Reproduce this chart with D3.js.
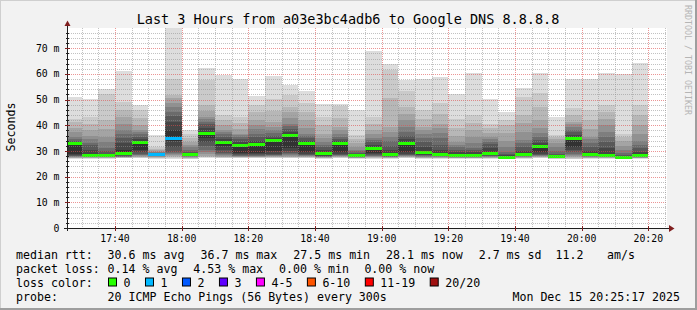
<!DOCTYPE html>
<html>
<head>
<meta charset="utf-8">
<script src="https://cdn.jsdelivr.net/npm/d3@7/dist/d3.min.js"></script>
<style>
    body { margin: 0; background: #f2f2f2; }
    svg { display: block; }
    text { font-family: "DejaVu Sans Mono", monospace; fill: #000; }
</style>
</head>
<body>
<div id="chart"></div>
<script>
// 5 minute steps, start time of each step
const barStarts = ["17:25", "17:30", "17:35", "17:40", "17:45", "17:50", "17:55",
    "18:00", "18:05", "18:10", "18:15", "18:20", "18:25", "18:30", "18:35",
    "18:40", "18:45", "18:50", "18:55", "19:00", "19:05", "19:10", "19:15",
    "19:20", "19:25", "19:30", "19:35", "19:40", "19:45", "19:50", "19:55",
    "20:00", "20:05", "20:10", "20:15"];

// median rtt per step (ms)
const medians = [32.8, 28.4, 28.2, 28.9, 33.4, 28.7, 34.7, 28.8, 36.7, 33.4,
    32.1, 32.5, 34.0, 36.2, 32.8, 28.9, 33.0, 28.2, 31.0, 28.7, 33.1, 29.3,
    28.6, 28.1, 28.2, 28.9, 27.5, 28.6, 31.9, 27.8, 34.8, 28.7, 28.4, 27.5, 28.1];

// lost pings per step (of 20)
const lossCount = [0, 0, 0, 0, 0, 1, 1, 0, 0, 0, 0, 0, 0, 0, 0, 0, 0, 0,
    0, 0, 0, 0, 0, 0, 0, 0, 0, 0, 0, 0, 0, 0, 0, 0, 0];

// the 20 sorted pings of every step (ms)
const pings = [
    [27.0, 27.2, 27.3, 27.4, 27.6, 27.8, 28.0, 28.2, 28.5, 29.0, 33.0, 33.5, 34.0, 34.6, 35.5, 37.5, 39.0, 41.2, 42.3, 51.1],
    [27.0, 27.2, 27.3, 27.4, 27.5, 27.6, 27.7, 27.8, 28.0, 28.3, 29.0, 30.5, 32.3, 33.2, 34.5, 36.0, 38.0, 40.5, 43.3, 50.3],
    [27.0, 27.2, 27.3, 27.4, 27.5, 27.6, 27.7, 27.8, 27.9, 28.1, 28.5, 29.0, 30.0, 31.0, 33.5, 35.5, 38.5, 42.0, 52.2, 54.0],
    [27.1, 27.3, 27.4, 27.5, 27.6, 27.7, 27.8, 28.0, 28.3, 28.7, 30.5, 33.0, 34.9, 36.5, 38.1, 40.5, 43.3, 46.0, 49.2, 61.3],
    [27.1, 27.3, 27.5, 27.7, 28.0, 28.3, 28.6, 29.0, 29.6, 30.5, 33.6, 34.5, 35.5, 36.5, 37.3, 38.1, 40.0, 43.0, 45.9, 47.9],
    [27.0, 27.2, 27.4, 27.6, 27.8, 28.0, 28.2, 28.3, 28.5, 28.6, 28.8, 29.0, 29.2, 29.4, 29.6, 29.7, 30.3, 30.8, 31.4, 36.2],
    [27.0, 27.4, 27.8, 28.2, 28.6, 29.0, 29.4, 29.7, 31.5, 34.0, 38.0, 41.4, 43.5, 45.3, 47.0, 48.5, 50.5, 51.8, 57.9, 80.0],
    [26.8, 27.0, 27.2, 27.4, 27.6, 27.8, 28.0, 28.2, 28.4, 28.6, 29.0, 29.3, 29.7, 30.5, 31.5, 32.5, 33.5, 35.0, 36.8, 38.2],
    [27.2, 27.5, 27.8, 28.2, 28.8, 29.5, 30.5, 31.8, 33.5, 35.0, 37.2, 39.0, 40.5, 41.4, 42.5, 43.3, 45.5, 47.9, 57.6, 62.2],
    [27.1, 27.3, 27.5, 27.7, 28.0, 28.4, 28.8, 29.3, 30.5, 32.0, 33.8, 34.5, 35.5, 36.5, 37.3, 38.1, 40.0, 42.0, 44.0, 59.7],
    [27.1, 27.3, 27.5, 27.6, 27.8, 28.0, 28.2, 28.5, 28.8, 29.3, 32.5, 33.5, 34.5, 35.5, 36.2, 36.8, 38.5, 41.0, 43.3, 58.0],
    [27.1, 27.3, 27.5, 27.6, 27.8, 28.0, 28.2, 28.5, 28.8, 29.3, 33.0, 34.0, 35.5, 36.8, 38.5, 40.0, 42.0, 45.0, 47.9, 51.4],
    [27.1, 27.3, 27.5, 27.7, 27.9, 28.1, 28.3, 28.6, 29.0, 29.8, 34.3, 34.9, 36.0, 37.0, 38.0, 39.5, 41.4, 45.5, 50.1, 59.2],
    [27.1, 27.3, 27.5, 27.8, 28.1, 28.4, 28.8, 29.3, 30.0, 31.0, 36.5, 37.3, 38.5, 39.7, 40.7, 43.0, 45.0, 47.0, 51.8, 55.8],
    [27.1, 27.3, 27.5, 27.7, 27.9, 28.1, 28.3, 28.6, 29.0, 29.6, 33.1, 34.0, 35.0, 36.0, 36.8, 39.0, 42.0, 45.0, 48.5, 53.5],
    [27.0, 27.2, 27.3, 27.4, 27.5, 27.6, 27.7, 27.9, 28.2, 28.6, 29.3, 30.5, 31.5, 32.3, 33.5, 35.0, 36.8, 40.0, 43.3, 48.2],
    [27.1, 27.3, 27.5, 27.7, 27.9, 28.1, 28.3, 28.6, 29.0, 29.6, 33.3, 34.0, 34.8, 35.5, 36.8, 38.0, 39.4, 43.0, 47.5, 48.2],
    [26.9, 27.1, 27.2, 27.3, 27.4, 27.5, 27.6, 27.7, 27.9, 28.1, 28.4, 28.7, 29.2, 29.8, 30.5, 31.6, 33.0, 34.5, 36.2, 46.0],
    [27.0, 27.2, 27.4, 27.5, 27.7, 27.9, 28.1, 28.4, 28.8, 29.4, 31.6, 32.5, 33.5, 34.2, 34.9, 36.5, 38.1, 40.5, 43.3, 69.1],
    [27.0, 27.2, 27.3, 27.4, 27.5, 27.6, 27.8, 28.0, 28.2, 28.5, 29.0, 30.5, 32.0, 34.0, 35.5, 37.5, 39.4, 50.5, 61.5, 63.8],
    [27.1, 27.3, 27.5, 27.7, 27.9, 28.1, 28.3, 28.6, 29.0, 29.6, 33.4, 34.5, 36.0, 37.5, 39.4, 42.0, 44.5, 47.2, 53.5, 57.7],
    [27.0, 27.2, 27.3, 27.4, 27.6, 27.8, 28.0, 28.3, 28.6, 29.0, 29.7, 31.5, 33.5, 34.9, 36.5, 38.0, 39.4, 42.5, 45.9, 58.2],
    [27.0, 27.2, 27.3, 27.4, 27.5, 27.7, 27.9, 28.1, 28.3, 28.5, 29.0, 30.5, 32.5, 34.9, 37.0, 39.0, 40.7, 44.5, 48.5, 58.9],
    [26.9, 27.1, 27.2, 27.3, 27.4, 27.5, 27.6, 27.7, 27.9, 28.1, 28.6, 29.5, 30.5, 31.5, 32.5, 33.6, 36.0, 39.0, 42.3, 52.2],
    [26.9, 27.1, 27.2, 27.3, 27.4, 27.5, 27.6, 27.7, 27.9, 28.1, 28.6, 29.5, 30.3, 31.0, 33.0, 35.5, 38.1, 41.0, 44.0, 60.5],
    [27.0, 27.2, 27.3, 27.4, 27.5, 27.7, 27.9, 28.1, 28.4, 28.8, 29.5, 31.0, 32.7, 33.5, 34.5, 35.5, 37.0, 39.0, 40.5, 50.4],
    [26.7, 26.9, 27.0, 27.1, 27.2, 27.3, 27.4, 27.5, 27.6, 27.7, 28.0, 28.5, 29.0, 29.7, 31.5, 34.0, 37.0, 40.0, 42.0, 45.2],
    [27.0, 27.2, 27.3, 27.4, 27.5, 27.7, 27.9, 28.1, 28.3, 28.5, 29.0, 30.0, 31.5, 33.0, 34.2, 37.5, 41.0, 44.0, 51.1, 54.7],
    [27.1, 27.3, 27.5, 27.7, 27.9, 28.1, 28.3, 28.6, 29.0, 29.6, 32.3, 33.3, 34.2, 35.5, 37.0, 38.8, 42.0, 47.0, 52.4, 60.5],
    [26.8, 27.0, 27.1, 27.2, 27.3, 27.4, 27.5, 27.6, 27.7, 27.8, 28.0, 28.4, 29.0, 30.0, 31.5, 33.0, 34.5, 35.5, 36.2, 43.4],
    [26.7, 27.0, 27.4, 27.8, 28.2, 28.6, 29.0, 29.5, 30.5, 31.5, 35.2, 36.3, 37.2, 38.1, 39.5, 40.5, 41.4, 44.0, 46.6, 58.0],
    [27.0, 27.2, 27.3, 27.4, 27.5, 27.7, 27.9, 28.1, 28.3, 28.6, 29.0, 30.0, 31.5, 33.0, 34.5, 35.5, 38.5, 42.0, 45.9, 58.0],
    [27.0, 27.2, 27.3, 27.4, 27.5, 27.6, 27.8, 28.0, 28.2, 28.4, 29.0, 31.0, 33.6, 35.5, 37.5, 40.1, 42.5, 45.0, 47.9, 60.4],
    [26.7, 26.9, 27.0, 27.1, 27.2, 27.3, 27.4, 27.5, 27.6, 27.7, 27.9, 28.2, 28.6, 29.2, 30.5, 32.0, 34.0, 35.5, 36.8, 60.0],
    [26.9, 27.1, 27.2, 27.3, 27.4, 27.5, 27.6, 27.7, 27.8, 28.0, 28.4, 29.5, 31.0, 32.5, 34.0, 36.8, 40.0, 44.0, 47.9, 64.4]
];

const yTicks = [0, 10, 20, 30, 40, 50, 60, 70];
const xTickLabels = ["17:40", "18:00", "18:20", "18:40", "19:00", "19:20", "19:40", "20:00", "20:20"];

const lossLegend = [
    { label: "0", color: "#26ff00" },
    { label: "1", color: "#00b8ff" },
    { label: "2", color: "#0059ff" },
    { label: "3", color: "#5e00ff" },
    { label: "4-5", color: "#ff00ff" },
    { label: "6-10", color: "#ff5500" },
    { label: "11-19", color: "#ff0000" },
    { label: "20/20", color: "#a01111" }
];

const rttStats = ["30.6 ms avg", "36.7 ms max", "27.5 ms min", "28.1 ms now", "2.7 ms sd", "11.2", "am/s"];
const lossStats = ["0.14 % avg", "4.53 % max", "0.00 % min", "0.00 % now"];

// smokeping band greys, outermost first
const smokeGrays = ["#dddddd", "#cacaca", "#b7b7b7", "#a4a4a4", "#919191",
    "#7e7e7e", "#6b6b6b", "#585858", "#454545", "#323232"];

const W = 697, H = 310;
const plot = { left: 67, right: 667, top: 28, bottom: 228 };

const parseHM = d3.timeParse("%H:%M");
const parseHMS = d3.timeParse("%H:%M:%S");

const svg = d3.select("#chart").append("svg")
    .attr("width", W)
    .attr("height", H);

// background + rrdtool style frame
svg.append("rect").attr("width", W).attr("height", H).attr("fill", "#f2f2f2");
svg.append("path").attr("d", `M0,${H} V0 H${W}`).attr("stroke", "#cfcfcf").attr("stroke-width", 2).attr("fill", "none");
svg.append("path").attr("d", `M0,${H - 1} H${W - 1} V0`).attr("stroke", "#9e9e9e").attr("stroke-width", 2).attr("fill", "none");

const x = d3.scaleTime()
    .domain([parseHMS("17:25:36"), parseHMS("20:25:36")])
    .range([plot.left, plot.right]);

const y = d3.scaleLinear()
    .domain([0, 77.9])
    .range([plot.bottom, plot.top]);

svg.append("defs").append("clipPath").attr("id", "clip")
    .append("rect")
    .attr("x", plot.left).attr("y", plot.top)
    .attr("width", plot.right - plot.left).attr("height", plot.bottom - plot.top);

svg.append("rect")
    .attr("x", plot.left).attr("y", plot.top)
    .attr("width", plot.right - plot.left).attr("height", plot.bottom - plot.top)
    .attr("fill", "#ffffff");

// smoke
const smoke = svg.append("g").attr("clip-path", "url(#clip)").attr("shape-rendering", "crispEdges");

function lossColor(n) {
    if (n === 0) return lossLegend[0].color;
    if (n === 1) return lossLegend[1].color;
    if (n === 2) return lossLegend[2].color;
    if (n === 3) return lossLegend[3].color;
    if (n <= 5) return lossLegend[4].color;
    if (n <= 10) return lossLegend[5].color;
    if (n <= 19) return lossLegend[6].color;
    return lossLegend[7].color;
}

barStarts.forEach((s, b) => {
    const t0 = parseHM(s);
    const t1 = d3.timeMinute.offset(t0, 5);
    const x0 = Math.round(x(t0)), x1 = Math.round(x(t1));
    const p = pings[b];
    for (let i = 0; i < 10; i++) {
        const lo = p[i], hi = p[19 - i];
        smoke.append("rect")
            .attr("x", x0)
            .attr("width", x1 - x0)
            .attr("y", y(hi))
            .attr("height", y(lo) - y(hi))
            .attr("fill", smokeGrays[i]);
    }
    // median line coloured by loss
    smoke.append("rect")
        .attr("x", x0)
        .attr("width", x1 - x0)
        .attr("y", Math.round(y(medians[b]) - 1.5))
        .attr("height", 3)
        .attr("fill", lossColor(lossCount[b]));
});

// grid on top
const grid = svg.append("g").attr("shape-rendering", "crispEdges");
const minorColor = "rgba(143,143,143,0.55)";
const majorColor = "rgba(222,79,79,0.6)";

for (let v = 2; v < 78; v += 2) {
    const major = v % 10 === 0;
    const yy = Math.round(y(v)) + 0.5;
    grid.append("line")
        .attr("x1", plot.left).attr("x2", plot.right)
        .attr("y1", yy).attr("y2", yy)
        .attr("stroke", major ? majorColor : minorColor)
        .attr("stroke-dasharray", "1,1");
}

const majorTimes = xTickLabels.map(l => +parseHM(l));
let tm = parseHM("17:30");
while (tm <= x.domain()[1]) {
    const major = majorTimes.includes(+tm);
    const xx = Math.round(x(tm)) + 0.5;
    grid.append("line")
        .attr("x1", xx).attr("x2", xx)
        .attr("y1", plot.top).attr("y2", plot.bottom)
        .attr("stroke", major ? majorColor : minorColor)
        .attr("stroke-dasharray", "1,1");
    tm = d3.timeMinute.offset(tm, 5);
}

// axes
const axisColor = "#1f1f1f";
const arrowColor = "#801f1f";
svg.append("line")
    .attr("x1", plot.left + 0.5).attr("x2", plot.left + 0.5)
    .attr("y1", plot.bottom + 3).attr("y2", 24)
    .attr("stroke", axisColor);
svg.append("line")
    .attr("x1", plot.left - 3).attr("x2", plot.right + 3)
    .attr("y1", plot.bottom + 0.5).attr("y2", plot.bottom + 0.5)
    .attr("stroke", axisColor);
svg.append("path")
    .attr("d", `M${plot.left - 2.5},26 L${plot.left + 3.5},26 L${plot.left + 0.5},20.5 Z`)
    .attr("fill", arrowColor);
svg.append("path")
    .attr("d", `M${plot.right + 2},225 L${plot.right + 2},232 L${plot.right + 7.5},228.5 Z`)
    .attr("fill", arrowColor);

// y ticks and labels
for (let v = 2; v < 78; v += 2) {
    const yy = Math.round(y(v)) + 0.5;
    const major = v % 10 === 0;
    svg.append("line")
        .attr("x1", plot.left - (major ? 2 : 1)).attr("x2", plot.left + (major ? 3 : 2))
        .attr("y1", yy).attr("y2", yy)
        .attr("stroke", major ? arrowColor : axisColor)
        .attr("shape-rendering", "crispEdges");
}
svg.append("g").selectAll("text")
    .data(yTicks)
    .join("text")
    .attr("x", 59.5)
    .attr("y", d => y(d))
    .attr("dy", "0.36em")
    .attr("text-anchor", "end")
    .style("font-size", "9.8px")
    .text(d => d === 0 ? "0" : d + " m");

// x ticks and labels
xTickLabels.forEach(l => {
    const xx = Math.round(x(parseHM(l))) + 0.5;
    svg.append("line")
        .attr("x1", xx).attr("x2", xx)
        .attr("y1", plot.bottom - 2).attr("y2", plot.bottom + 3)
        .attr("stroke", arrowColor)
        .attr("shape-rendering", "crispEdges");
});
svg.append("g").selectAll("text")
    .data(xTickLabels)
    .join("text")
    .attr("x", d => x(parseHM(d)))
    .attr("y", 241.5)
    .attr("text-anchor", "middle")
    .style("font-size", "9.8px")
    .text(d => d);

// title, unit, watermark
svg.append("text")
    .attr("x", 348).attr("y", 24)
    .attr("text-anchor", "middle")
    .style("font-size", "13.5px")
    .text("Last 3 Hours from a03e3bc4adb6 to Google DNS 8.8.8.8");

svg.append("text")
    .attr("transform", "translate(15,127) rotate(-90)")
    .attr("text-anchor", "middle")
    .style("font-size", "11.6px")
    .text("Seconds");

svg.append("text")
    .attr("transform", "translate(685,60) rotate(90)")
    .attr("text-anchor", "middle")
    .style("font-size", "8.3px")
    .style("fill", "#b5b5b5")
    .text("RRDTOOL / TOBI OETIKER");

// legend
const legend = svg.append("g").style("font-size", "11.6px");
const rowY = [258.5, 272.5, 286.5, 300.5];

legend.append("text").attr("x", 16).attr("y", rowY[0]).text("median rtt:");
const rttX = [107.6, 200.5, 293.3, 386, 478.7, 555.6, 607.1];
rttStats.forEach((s, i) => legend.append("text").attr("x", rttX[i]).attr("y", rowY[0]).text(s));

legend.append("text").attr("x", 16).attr("y", rowY[1]).text("packet loss:");
const lossX = [107.6, 193.3, 279.1, 364.4];
lossStats.forEach((s, i) => legend.append("text").attr("x", lossX[i]).attr("y", rowY[1]).text(s));

legend.append("text").attr("x", 16).attr("y", rowY[2]).text("loss color:");
let cx = 108.5;
lossLegend.forEach(d => {
    legend.append("rect")
        .attr("x", cx).attr("y", rowY[2] - 8.5)
        .attr("width", 8).attr("height", 8)
        .attr("fill", d.color)
        .attr("stroke", "#000")
        .attr("stroke-width", 1);
    const t = legend.append("text").attr("x", cx + 15).attr("y", rowY[2]).text(d.label);
    cx = cx + 15 + t.node().getComputedTextLength() + 15;
});

legend.append("text").attr("x", 16).attr("y", rowY[3]).text("probe:");
legend.append("text").attr("x", 107.6).attr("y", rowY[3]).text("20 ICMP Echo Pings (56 Bytes) every 300s");
legend.append("text").attr("x", 680).attr("y", rowY[3]).attr("text-anchor", "end").text("Mon Dec 15 20:25:17 2025");
</script>
</body>
</html>
